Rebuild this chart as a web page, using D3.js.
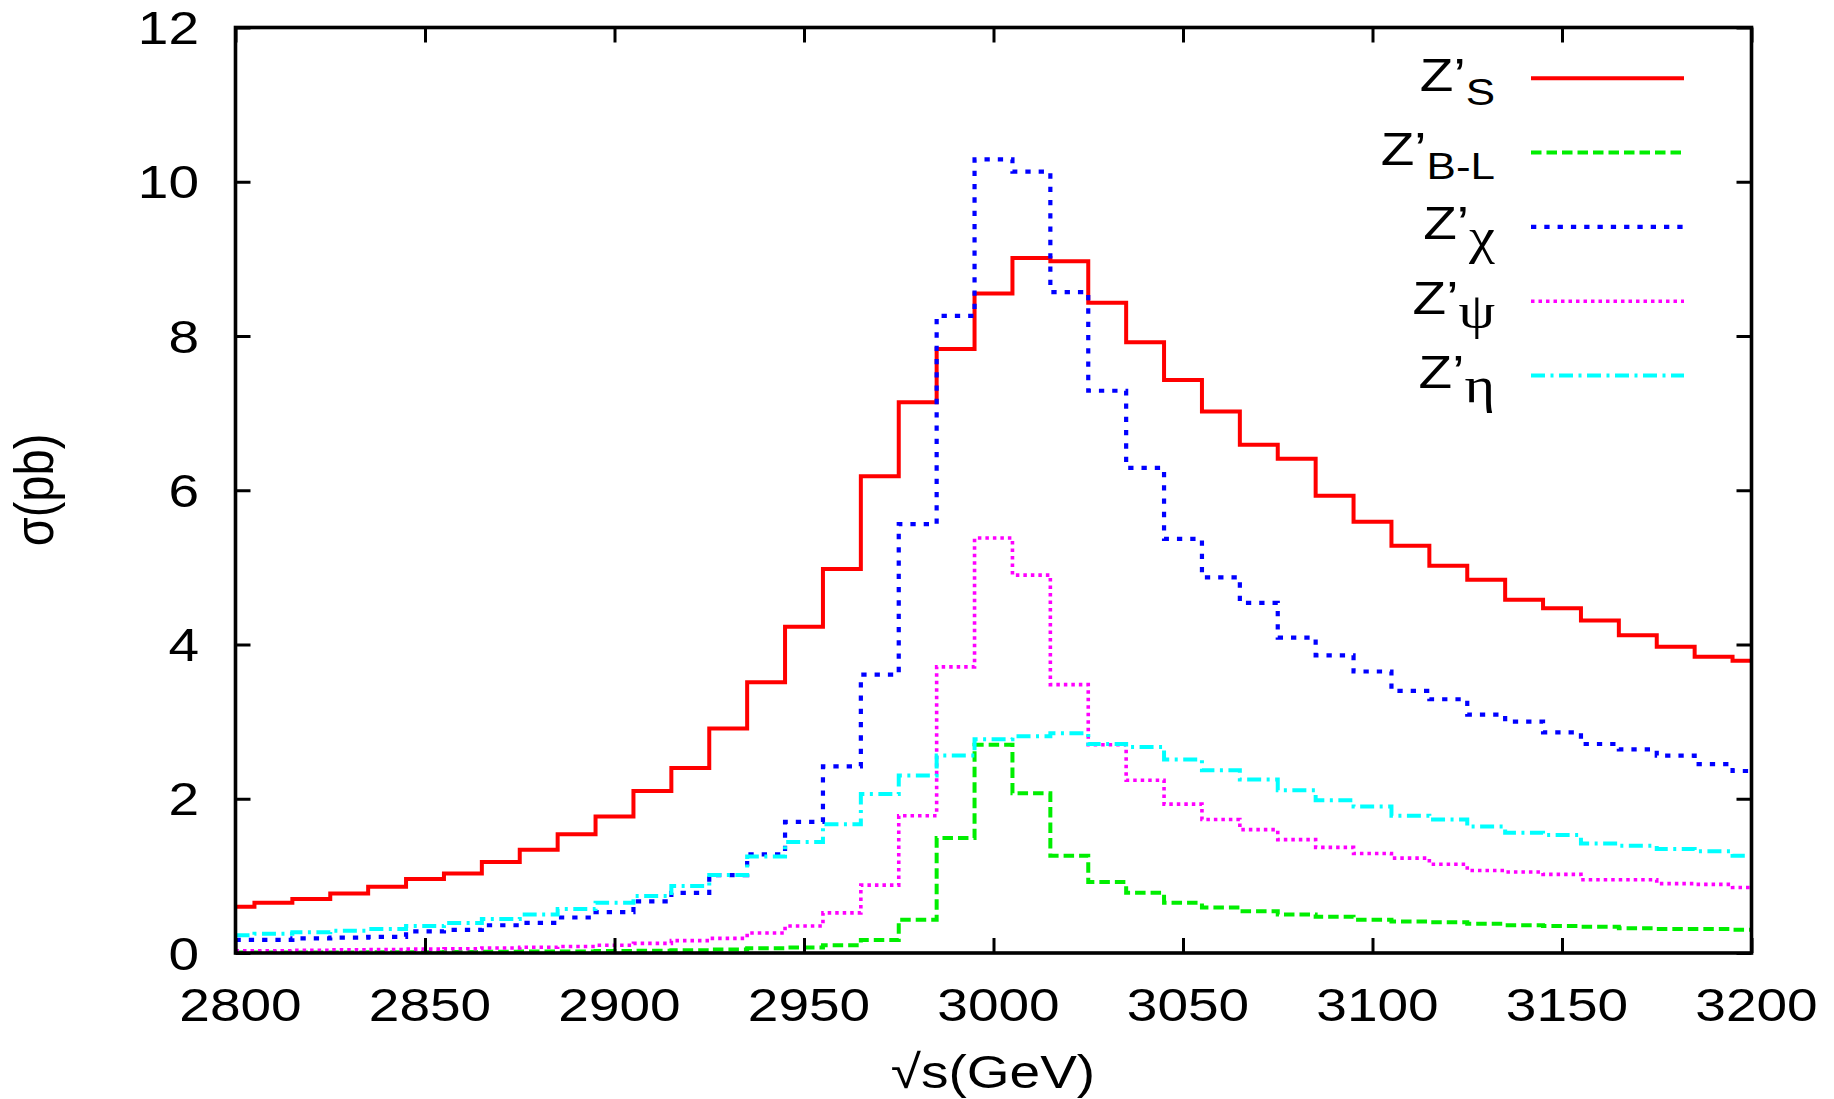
<!DOCTYPE html>
<html><head><meta charset="utf-8">
<script src="https://cdn.jsdelivr.net/npm/d3@7"></script>
<style>body{margin:0;background:#fff;overflow:hidden}</style>
</head><body>
<svg id="chart" width="1834" height="1099"></svg>
<script>
// ---- data ----
const energies = [2800,2810,2820,2830,2840,2850,2860,2870,2880,2890,2900,2910,2920,2930,2940,2950,2960,2970,2980,2990,3000,3010,3020,3030,3040,3050,3060,3070,3080,3090,3100,3110,3120,3130,3140,3150,3160,3170,3180,3190,3200];
const sigmaS   = [0.60,0.65,0.70,0.77,0.86,0.96,1.03,1.18,1.34,1.54,1.77,2.10,2.40,2.91,3.51,4.23,4.98,6.18,7.14,7.83,8.55,9.01,8.97,8.43,7.92,7.43,7.02,6.59,6.41,5.93,5.59,5.28,5.02,4.84,4.58,4.47,4.31,4.12,3.97,3.84,3.79];
const sigmaBL  = [0.005,0.005,0.007,0.008,0.010,0.010,0.012,0.015,0.018,0.020,0.025,0.030,0.035,0.045,0.060,0.070,0.100,0.170,0.43,1.49,2.70,2.07,1.26,0.92,0.78,0.65,0.59,0.54,0.50,0.47,0.43,0.41,0.40,0.38,0.36,0.35,0.34,0.32,0.31,0.31,0.30];
const sigmaChi = [0.17,0.17,0.19,0.20,0.21,0.28,0.30,0.36,0.39,0.46,0.53,0.67,0.78,1.01,1.28,1.70,2.42,3.61,5.56,8.26,10.29,10.13,8.57,7.29,6.29,5.37,4.87,4.54,4.09,3.86,3.65,3.40,3.29,3.09,3.00,2.86,2.71,2.64,2.56,2.45,2.36];
const sigmaPsi = [0.03,0.03,0.035,0.04,0.045,0.05,0.055,0.065,0.075,0.085,0.10,0.125,0.16,0.19,0.26,0.35,0.52,0.88,1.78,3.71,5.38,4.90,3.48,2.70,2.24,1.93,1.73,1.60,1.47,1.37,1.29,1.23,1.15,1.07,1.05,1.02,0.95,0.95,0.90,0.89,0.85];
const sigmaEta = [0.23,0.25,0.27,0.29,0.31,0.35,0.39,0.44,0.50,0.57,0.65,0.74,0.87,1.01,1.25,1.44,1.67,2.06,2.30,2.56,2.77,2.81,2.85,2.71,2.67,2.51,2.37,2.25,2.11,1.98,1.90,1.78,1.73,1.64,1.56,1.53,1.42,1.39,1.35,1.32,1.26];
const seriesNames = ["S","B-L","\u03C7","\u03C8","\u03B7"];
const xTicks = [2800,2850,2900,2950,3000,3050,3100,3150,3200];
const yTicks = [0,2,4,6,8,10,12];

// ---- styles ----
const seriesValues = [sigmaS, sigmaBL, sigmaChi, sigmaPsi, sigmaEta];
const colors = ["#ff0000","#00ee00","#0000ff","#ff00ff","#00ffff"];
const dashes = [null,"10.5,5","5.3,8","3.5,4","14,5.5,3,5.5"];
const widths = [4,4,4.2,3.6,4];
const greek = [false,false,true,true,true];

const L = 235.5, R = 1751.5, T = 27.5, B = 953;
const FS = 47, SX = 1.17, FONT = "'Liberation Sans', Arial, Helvetica, sans-serif";
const SERIF = "'Liberation Serif','DejaVu Serif',serif";

const svg = d3.select("#chart");
const x = d3.scaleLinear().domain([2800,3200]).range([L,R]);
const y = d3.scaleLinear().domain([0,12]).range([B,T]);

svg.append("defs").append("clipPath").attr("id","clip")
  .append("rect").attr("x",L).attr("y",T).attr("width",R-L).attr("height",B-T);

// series (histeps)
const line = d3.line().x((d,i)=>x(energies[i])).y(d=>y(d)).curve(d3.curveStep);
const gLines = svg.append("g").attr("clip-path","url(#clip)");
seriesValues.forEach((vals,k)=>{
  gLines.append("path").attr("d",line(vals))
    .attr("fill","none").attr("stroke",colors[k]).attr("stroke-width",widths[k])
    .attr("stroke-dasharray",dashes[k]).attr("stroke-linejoin","miter").attr("stroke-linecap","butt");
});

// axes with inward ticks on all four sides
const tl = 15;
const ax = svg.append("g");
ax.append("g").attr("transform",`translate(0,${B})`)
  .call(d3.axisBottom(x).tickValues(xTicks).tickSize(-tl).tickFormat(""));
ax.append("g").attr("transform",`translate(0,${T})`)
  .call(d3.axisTop(x).tickValues(xTicks).tickSize(-tl).tickFormat(""));
ax.append("g").attr("transform",`translate(${L},0)`)
  .call(d3.axisLeft(y).tickValues(yTicks).tickSize(-tl).tickFormat(""));
ax.append("g").attr("transform",`translate(${R},0)`)
  .call(d3.axisRight(y).tickValues(yTicks).tickSize(-tl).tickFormat(""));
ax.selectAll(".domain").remove();
ax.selectAll(".tick line").attr("stroke","#000").attr("stroke-width",3);
svg.append("rect").attr("x",L).attr("y",T).attr("width",R-L).attr("height",B-T)
  .attr("fill","none").attr("stroke","#000").attr("stroke-width",3.6);

function sText(px,py,str,anchor,rot){
  const g = svg.append("g").attr("transform",`translate(${px},${py}) scale(${SX},1)` + (rot?` rotate(${rot})`:""));
  return g.append("text").attr("text-anchor",anchor).attr("font-family",FONT)
    .attr("font-size",FS).attr("fill","#000").text(str);
}

// tick labels
yTicks.forEach(v=>sText(199, y(v)+16.5, String(v), "end"));
xTicks.forEach(v=>sText(x(v)+5, 1021, String(v), "middle"));

// axis titles
sText(993, 1088, "\u221As(GeV)", "middle");
sText(53, 490, "\u03C3(pb)", "middle", -90);

// legend
const legY0 = 78.3, legDY = 74.3;
seriesNames.forEach((nm,k)=>{
  const ly = legY0 + k*legDY;
  svg.append("line").attr("x1",1531).attr("x2",1684).attr("y1",ly).attr("y2",ly)
    .attr("stroke",colors[k]).attr("stroke-width",widths[k]).attr("stroke-dasharray",dashes[k]);
  const g = svg.append("g").attr("transform",`translate(1495,${ly+12.5}) scale(${SX},1)`);
  const t = g.append("text").attr("text-anchor","end").attr("font-family",FONT).attr("font-size",FS).attr("fill","#000");
  t.append("tspan").text("Z\u2019");
  t.append("tspan").attr("dy",14)
    .attr("font-size", greek[k] ? 50 : FS*0.8)
    .attr("font-family", greek[k] ? SERIF : FONT)
    .text(nm);
});
</script>
</body></html>
